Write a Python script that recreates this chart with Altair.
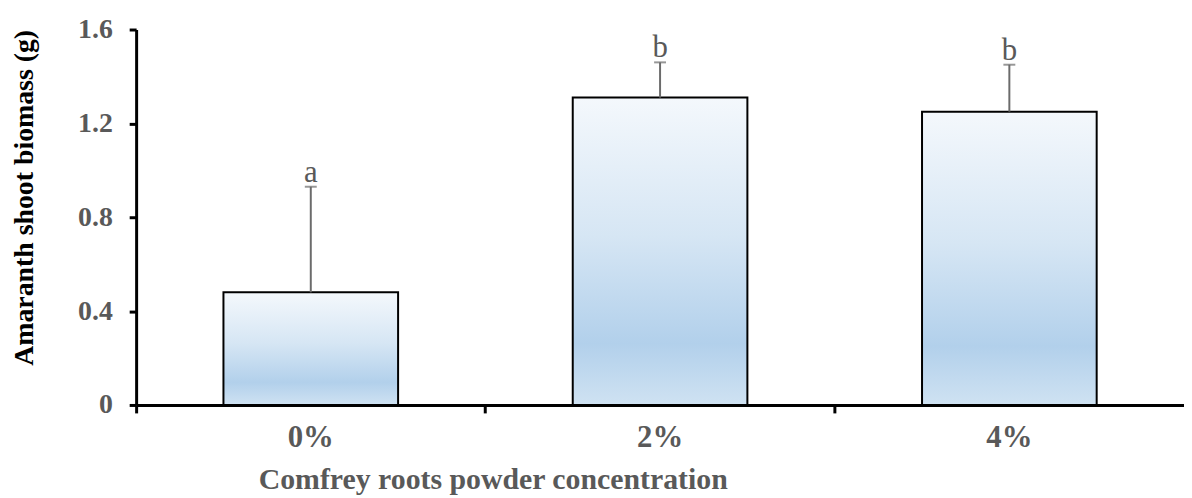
import altair as alt
import pandas as pd

categories = ["0%", "2%", "4%"]
means = [0.48, 1.31, 1.25]
upper = [0.93, 1.46, 1.45]
letters = ["a", "b", "b"]

df = pd.DataFrame({"conc": categories, "mean": means, "upper": upper, "letter": letters})

FONT = "Liberation Serif"
GRAY = "#595959"

grad = alt.LinearGradient(
    gradient="linear",
    x1=0, x2=0, y1=0, y2=1,
    stops=[
        alt.GradientStop(offset=0, color="#f4f8fc"),
        alt.GradientStop(offset=0.45, color="#d6e6f4"),
        alt.GradientStop(offset=0.8, color="#b2d0eb"),
        alt.GradientStop(offset=1, color="#cfe2f2"),
    ],
)

W = 1055

x = alt.X(
    "conc:N",
    sort=categories,
    scale=alt.Scale(paddingInner=0, paddingOuter=0),
    axis=alt.Axis(
        title="Comfrey roots powder concentration",
        bandPosition=0,
        labelAngle=0,
        labelFont=FONT, labelFontSize=31, labelFontWeight="bold", labelColor=GRAY,
        labelPadding=10,
        tickSize=8, tickWidth=3, tickColor="black",
        domainWidth=3, domainColor="black",
        titleFont=FONT, titleFontSize=30, titleFontWeight="bold", titleColor=GRAY,
        titleX=359, titleY=84, titleAlign="center", titleBaseline="alphabetic",
        grid=False,
    ),
)

y_axis = alt.Axis(
    title="Amaranth shoot biomass (g)",
    values=[0, 0.4, 0.8, 1.2, 1.6],
    labelExpr="datum.value == 0 ? '0' : format(datum.value, '.1f')",
    labelFont=FONT, labelFontSize=28, labelFontWeight="bold", labelColor=GRAY,
    labelPadding=17,
    tickSize=7, tickWidth=3, tickColor="black",
    domainWidth=3, domainColor="black",
    titleFont=FONT, titleFontSize=28, titleFontWeight="bold", titleColor="black",
    titleX=-104, titleY=169, titleAlign="center", titleBaseline="alphabetic", titleAngle=270,
    grid=False,
)
yscale = alt.Scale(domain=[0, 1.6], nice=False)

bars = alt.Chart(df).mark_bar(
    color=grad, stroke="black", strokeWidth=2, width={"band": 0.5}
).encode(x=x, y=alt.Y("mean:Q", scale=yscale, axis=y_axis))

err = alt.Chart(df).mark_rule(color="#6b6b6b", strokeWidth=2).encode(
    x=alt.X("conc:N", sort=categories), y=alt.Y("mean:Q"), y2="upper:Q"
)
cap = alt.Chart(df).mark_tick(color="#6b6b6b", thickness=2, size=12, orient="horizontal").encode(
    x=alt.X("conc:N", sort=categories), y=alt.Y("upper:Q")
)
txt = alt.Chart(df).mark_text(
    font=FONT, fontSize=31, color=GRAY, baseline="alphabetic", dy=-5
).encode(x=alt.X("conc:N", sort=categories), y=alt.Y("upper:Q"), text="letter:N")

chart = (
    alt.layer(bars, err, cap, txt)
    .properties(
        width=W, height=378,
        autosize=alt.AutoSizeParams(type="none"),
        padding={"left": 129, "top": 20, "right": 0, "bottom": 90},
    )
    .configure_view(stroke=None)
)

chart.save("out.html", embed_options={"renderer": "svg", "actions": False})
